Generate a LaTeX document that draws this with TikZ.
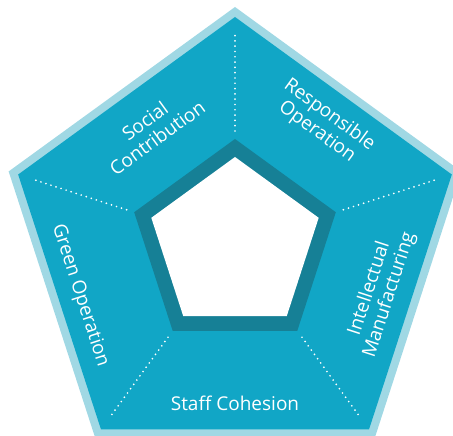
\documentclass[tikz,border=0pt]{standalone}
\usepackage{fontspec}
\setmainfont{Open Sans}
\usetikzlibrary{shapes.geometric}

\definecolor{rimblue}{HTML}{A0D8E4}
\definecolor{facetblue}{HTML}{11A6C6}
\definecolor{ringblue}{HTML}{168096}

\begin{document}
\begin{tikzpicture}[
    penta/.style={
        regular polygon, regular polygon sides=5, inner sep=0pt, outer sep=0pt
    },
    sep/.style={
        white, line width=1.9pt, line cap=round, dash pattern=on 0pt off 5.3pt
    },
    lbl/.style={
        text=white, align=center, inner sep=0pt,
        font=\fontsize{19}{21}\selectfont
    }
]

    \useasboundingbox (-235pt,-191pt) rectangle (218pt,245pt);
    \clip (-235pt,-191pt) rectangle (218pt,245pt);

    % pentagons, back to front
    \node[penta, fill=rimblue, minimum size=476pt] (rim) at (0,0) {};
    \node[penta, fill=facetblue, minimum size=456pt] (body) at (0,0) {};
    \node[penta, fill=ringblue, minimum size=212pt] (ring) at (0,0) {};
    \node[penta, fill=white, minimum size=176pt] (hole) at (0,0) {};

    % dotted dividers
    \foreach \k/\ang in {1/90,2/162,3/234,4/306,5/18} {
        \coordinate (in\k) at (\ang:114pt);
        \coordinate (out\k) at (\ang:212pt);
        \draw[sep] (in\k) -- (out\k);
    }

    \node[lbl, rotate=36] (social) at (126:143pt) {Social\\Contribution};
    \node[lbl, rotate=-36] (resp) at (54:150pt) {Responsible\\Operation};
    \node[lbl, rotate=72] (intel) at (-18:152pt) {Intellectual\\Manufacturing};
    \node[lbl] (staff) at (270:158pt) {Staff Cohesion};
    \node[lbl, rotate=-72] (green) at (198:163pt) {Green Operation};

\end{tikzpicture}
\end{document}
